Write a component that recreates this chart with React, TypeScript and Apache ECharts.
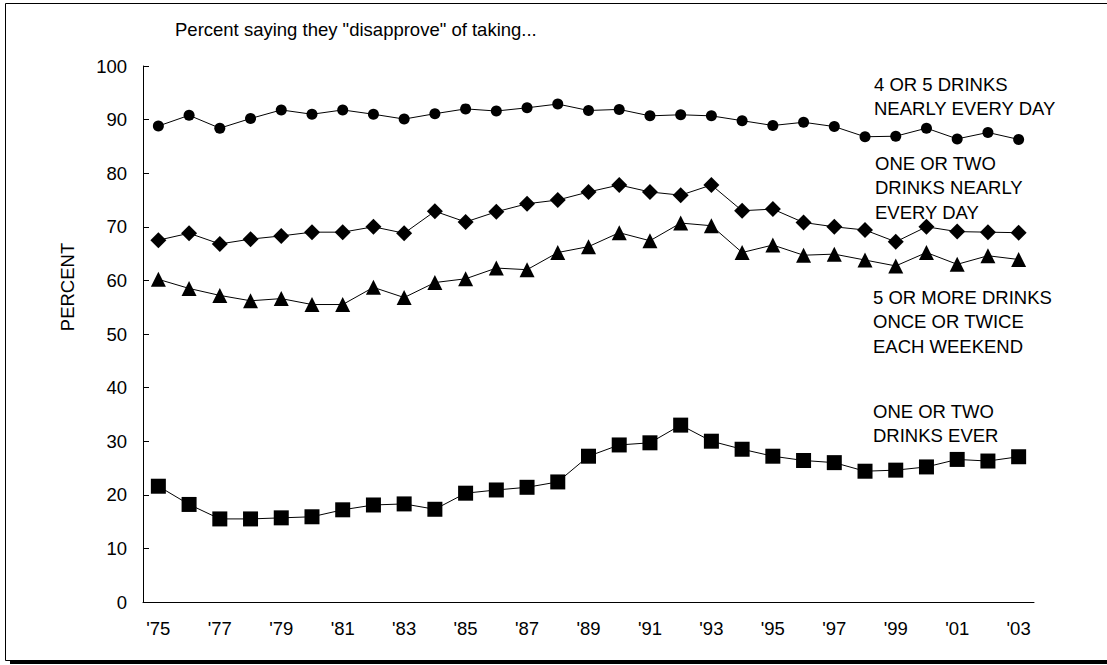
import React, { useEffect, useRef } from "react";
import * as echarts from "echarts";

const years = ["'75","'76","'77","'78","'79","'80","'81","'82","'83","'84","'85","'86","'87","'88","'89","'90","'91","'92","'93","'94","'95","'96","'97","'98","'99","'00","'01","'02","'03"];

const fourFiveDaily = [88.8,90.8,88.4,90.2,91.8,91.0,91.8,91.0,90.1,91.1,92.0,91.6,92.2,92.9,91.7,91.9,90.7,90.9,90.7,89.8,88.9,89.5,88.7,86.8,86.9,88.4,86.4,87.6,86.3];
const oneTwoDaily = [67.5,68.8,66.8,67.7,68.3,69.0,69.0,70.0,68.8,72.9,70.9,72.8,74.3,75.0,76.5,77.8,76.5,75.9,77.8,73.0,73.3,70.8,70.0,69.4,67.2,70.0,69.1,69.0,68.9];
const fivePlusWeekend = [60.2,58.5,57.2,56.2,56.6,55.5,55.5,58.7,56.8,59.6,60.3,62.3,62.0,65.2,66.3,68.9,67.4,70.7,70.2,65.2,66.6,64.7,64.9,63.8,62.7,65.2,63.0,64.6,63.9];
const oneTwoEver = [21.6,18.2,15.5,15.5,15.7,15.9,17.2,18.1,18.3,17.3,20.3,20.9,21.4,22.4,27.2,29.3,29.7,33.0,30.0,28.5,27.2,26.4,26.0,24.4,24.6,25.2,26.6,26.3,27.1];

const titleText = 'Percent saying they "disapprove" of taking...';
const yAxisTitle = "PERCENT";
const seriesLabels = [
  ["4 OR 5 DRINKS", "NEARLY EVERY DAY"],
  ["ONE OR TWO", "DRINKS NEARLY", "EVERY DAY"],
  ["5 OR MORE DRINKS", "ONCE OR TWICE", "EACH WEEKEND"],
  ["ONE OR TWO", "DRINKS EVER"],
];

const FONT = "'Liberation Sans', Arial, sans-serif";

export default function App() {
  const ref = useRef<HTMLDivElement>(null);
  useEffect(() => {
    if (!ref.current) return;
    const chart = echarts.init(ref.current, undefined, { renderer: "svg" });
    const mk = (data: number[], symbol: string, size: number) => ({
      type: "line",
      data,
      symbol,
      symbolSize: size,
      showAllSymbol: true,
      lineStyle: { color: "#000", width: 1 },
      itemStyle: { color: "#000" },
      emphasis: { disabled: true },
    });
    const labelPos = [
      { x: 874, y: 84 },
      { x: 875, y: 163 },
      { x: 873, y: 297 },
      { x: 873, y: 411 },
    ];
    const lineH = 24.5;
    const texts: any[] = [];
    seriesLabels.forEach((lines, i) => {
      lines.forEach((t, j) => {
        texts.push({
          type: "text",
          x: labelPos[i].x,
          y: labelPos[i].y + j * lineH,
          style: { text: t, font: `18.5px ${FONT}`, fill: "#000", textVerticalAlign: "middle", verticalAlign: "middle" },
        });
      });
    });
    chart.setOption({
      animation: false,
      backgroundColor: "#fff",
      grid: { left: 143, right: 73, top: 66, bottom: 63 },
      xAxis: {
        type: "category",
        data: years,
        boundaryGap: true,
        axisLine: { lineStyle: { color: "#000", width: 1 } },
        axisTick: { inside: true, length: 6, interval: 0, lineStyle: { color: "#000" } },
        axisLabel: { interval: 1, color: "#000", fontSize: 18.5, fontFamily: FONT, margin: 17 },
        splitLine: { show: false },
      },
      yAxis: {
        type: "value",
        min: 0,
        max: 100,
        interval: 10,
        axisLine: { show: true, lineStyle: { color: "#000", width: 1 } },
        axisTick: { show: true, inside: true, length: 6, lineStyle: { color: "#000" } },
        axisLabel: { color: "#000", fontSize: 18.5, fontFamily: FONT, margin: 16 },
        splitLine: { show: false },
      },
      series: [
        mk(fourFiveDaily, "circle", 11),
        mk(oneTwoDaily, "diamond", 16),
        mk(fivePlusWeekend, "triangle", 15),
        mk(oneTwoEver, "rect", 15),
      ],
      graphic: [
        { type: "rect", shape: { x: 5.5, y: 3.5, width: 1110, height: 657 }, style: { fill: "none", stroke: "#000", lineWidth: 1 }, silent: true },
        { type: "rect", shape: { x: 10, y: 661, width: 1100, height: 3 }, style: { fill: "#000" }, silent: true },
        { type: "text", x: 175, y: 29, style: { text: titleText, font: `18.5px ${FONT}`, fill: "#000", verticalAlign: "middle" } },
        { type: "text", x: 67, y: 287, rotation: Math.PI / 2, style: { text: yAxisTitle, font: `18.5px ${FONT}`, fill: "#000", align: "center", verticalAlign: "middle" } },
        ...texts,
      ],
    });
    return () => chart.dispose();
  }, []);
  return <div ref={ref} style={{ position: "absolute", left: 0, top: 0, width: 1107, height: 665 }} />;
}
